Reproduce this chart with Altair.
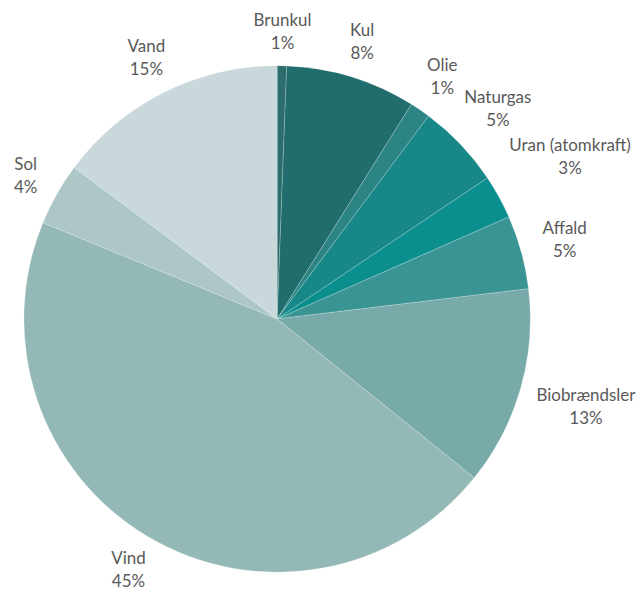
import altair as alt
import pandas as pd

categories = ["Brunkul", "Kul", "Olie", "Naturgas", "Uran (atomkraft)", "Affald",
              "Biobrændsler", "Vind", "Sol", "Vand"]
values = [0.6, 8.3, 1.3, 5.4, 2.8, 4.7, 12.7, 45.4, 4.0, 14.8]
pct_labels = ["1%", "8%", "1%", "5%", "3%", "5%", "13%", "45%", "4%", "15%"]
colors = ["#2e6d6d", "#216c6c", "#2c8484", "#178787", "#0b8e8e", "#3b9494",
          "#78aaaa", "#94b8b5", "#adc6c6", "#c8d8db"]

df = pd.DataFrame({
    "kategori": categories,
    "andel": values,
    "pct": pct_labels,
    "order": list(range(len(categories))),
})

R = 254
CX, CY = 270, 311

pie = alt.Chart(df).mark_arc(outerRadius=R, stroke="#ffffff", strokeWidth=0.4, strokeOpacity=0.5).encode(
    theta=alt.Theta("andel:Q", stack=True),
    order=alt.Order("order:Q"),
    color=alt.Color("kategori:N", scale=alt.Scale(domain=categories, range=colors), legend=None),
    x=alt.value(CX),
    y=alt.value(CY),
)

labels = alt.Chart(df).transform_window(
    cum="sum(andel)", sort=[alt.SortField("order")], frame=[None, 0]
).transform_joinaggregate(
    total="sum(andel)"
).transform_calculate(
    ang="2*PI*(datum.cum - datum.andel/2)/datum.total",
    label="datum.kategori + '\\n' + datum.pct",
    hw="length(datum.kategori)*4.0",
).transform_calculate(
    lr=f"{R + 18} + datum.hw*abs(sin(datum.ang)) + 15*abs(cos(datum.ang))",
).transform_calculate(
    lx=f"{CX} + datum.lr*sin(datum.ang)",
    ly=f"{CY} - datum.lr*cos(datum.ang) - 11.5",
).mark_text(
    font="Lato", fontSize=17, color="#595959", align="center", baseline="middle",
    lineBreak="\n", lineHeight=23,
).encode(
    x=alt.X("lx:Q", scale=None),
    y=alt.Y("ly:Q", scale=None),
    text="label:N",
)

chart = alt.layer(pie, labels).properties(
    width=628, height=576, padding=0
).configure_view(stroke=None)

chart.save("out.html", embed_options={"renderer": "svg", "actions": False})
